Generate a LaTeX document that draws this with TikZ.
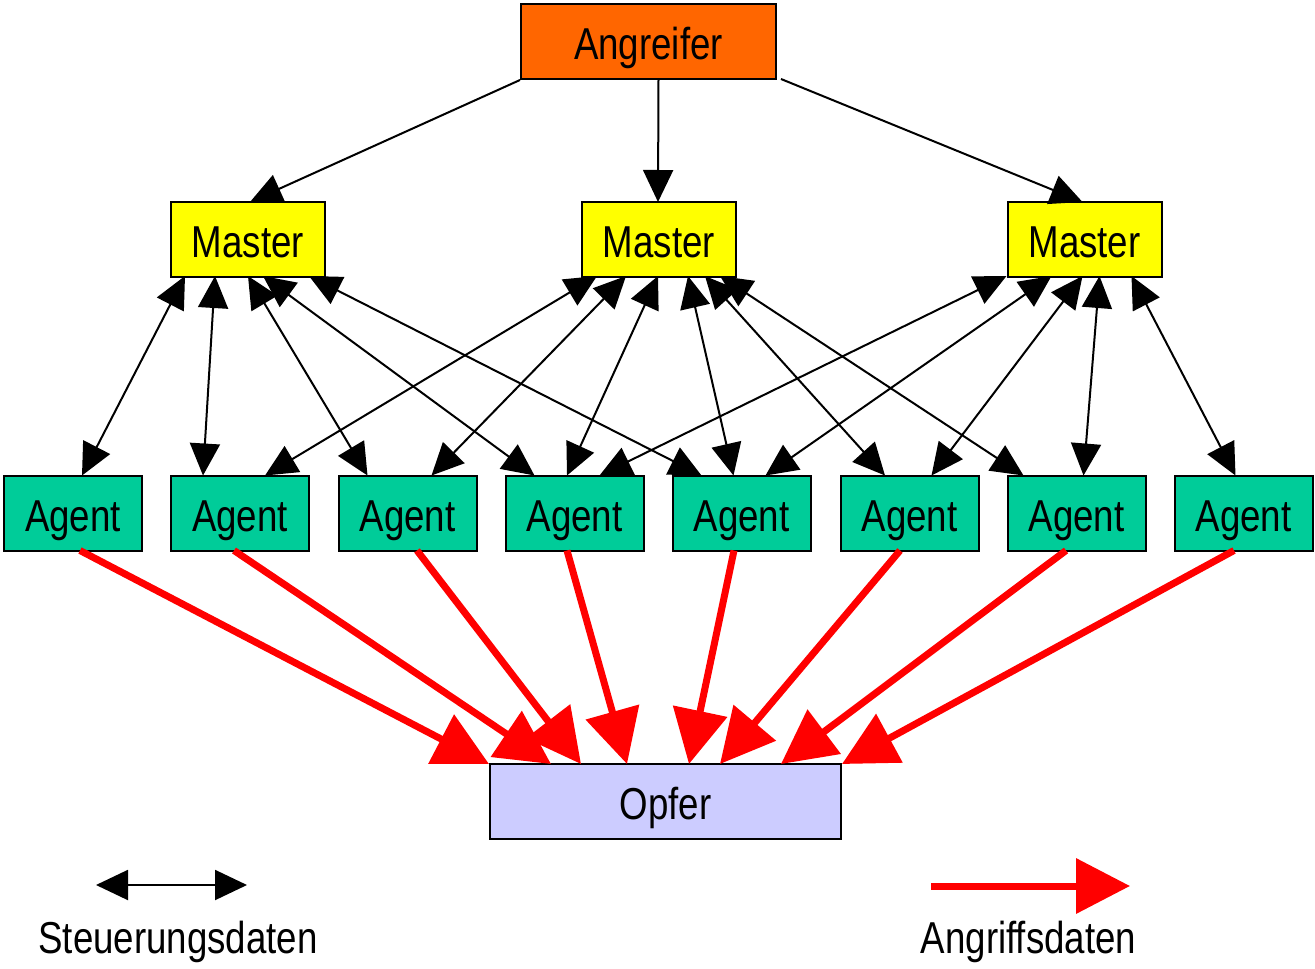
\documentclass[tikz,border=0pt]{standalone}
\usepackage{fontspec}
\setmainfont{Liberation Sans}[FakeStretch=0.82]
\usetikzlibrary{arrows.meta}
\definecolor{angcol}{HTML}{FF6600}
\definecolor{mastcol}{HTML}{FFFF00}
\definecolor{agcol}{HTML}{00CC99}
\definecolor{opcol}{HTML}{CCCCFF}
\begin{document}
\begin{tikzpicture}[x=1pt,y=-1pt,
  box/.style={draw=black,line width=2pt,inner sep=0pt,minimum height=75pt,
    text height=36pt,text depth=0pt,
    font=\fontsize{44.7}{50}\selectfont},
  ctrl/.style={line width=2pt,{Triangle[length=32pt,width=30pt]}-{Triangle[length=32pt,width=30pt]}},
  cmd/.style={line width=2pt,-{Triangle[length=32pt,width=30pt]}},
  atk/.style={line width=7pt,red,-{Triangle[length=54pt,width=54pt]}},
  lbl/.style={anchor=base,inner sep=0pt,font=\fontsize{44.7}{50}\selectfont}]
\useasboundingbox (0,0) rectangle (1315,969);
% nodes
\node[box,fill=angcol,minimum width=255pt] (ang) at (648.5,41.5) {Angreifer};
\node[box,fill=mastcol,minimum width=154pt] (m1) at (248,239.5) {Master};
\node[box,fill=mastcol,minimum width=154pt] (m2) at (659,239.5) {Master};
\node[box,fill=mastcol,minimum width=154pt] (m3) at (1084.5,239.5) {Master};
\foreach \i/\x in {1/73,2/240,3/407.5,4/574.5,5/741.5,6/909.5,7/1076.5,8/1243.5}
  \node[box,fill=agcol,minimum width=138pt] (a\i) at (\x,513) {Agent};
\node[box,fill=opcol,minimum width=351pt] (op) at (665.5,801.5) {Opfer};
% attacker -> masters
\draw[cmd] (ang.south west) -- ([xshift=2pt,yshift=-1pt]m1.north);
\draw[cmd] ([xshift=10pt,yshift=1pt]ang.south) -- ([xshift=-1pt,yshift=-1pt]m2.north);
\draw[cmd] ([xshift=4pt,yshift=1pt]ang.south east) -- ([xshift=-2pt,yshift=-1pt]m3.north);
% master <-> agent
\draw[ctrl] ([xshift=-63pt,yshift=2pt]m1.south) -- ([xshift=9pt,yshift=-1pt]a1.north);
\draw[ctrl] ([xshift=-33pt,yshift=2pt]m1.south) -- ([xshift=-37pt,yshift=-1pt]a2.north);
\draw[ctrl] ([xshift=0pt,yshift=2pt]m1.south) -- ([xshift=-40pt,yshift=-1pt]a3.north);
\draw[ctrl] ([xshift=15pt,yshift=2pt]m1.south) -- ([xshift=-40pt,yshift=-1pt]a4.north);
\draw[ctrl] ([xshift=61pt,yshift=2pt]m1.south) -- ([xshift=-40pt,yshift=-1pt]a5.north);
\draw[ctrl] ([xshift=-62pt,yshift=2pt]m2.south) -- ([xshift=25pt,yshift=-1pt]a2.north);
\draw[ctrl] ([xshift=-33pt,yshift=2pt]m2.south) -- ([xshift=24pt,yshift=-1pt]a3.north);
\draw[ctrl] ([xshift=-1pt,yshift=2pt]m2.south) -- ([xshift=-7.5pt,yshift=-1pt]a4.north);
\draw[ctrl] ([xshift=29pt,yshift=2pt]m2.south) -- ([xshift=-8pt,yshift=-1pt]a5.north);
\draw[ctrl] ([xshift=46pt,yshift=2pt]m2.south) -- ([xshift=-24.5pt,yshift=-1pt]a6.north);
\draw[ctrl] ([xshift=61pt,yshift=2pt]m2.south) -- ([xshift=-53pt,yshift=-1pt]a7.north);
\draw[ctrl] ([xshift=-78pt,yshift=2pt]m3.south) -- ([xshift=25pt,yshift=-1pt]a4.north);
\draw[ctrl] ([xshift=-33pt,yshift=2pt]m3.south) -- ([xshift=24pt,yshift=-1pt]a5.north);
\draw[ctrl] ([xshift=-2pt,yshift=2pt]m3.south) -- ([xshift=22pt,yshift=-1pt]a6.north);
\draw[ctrl] ([xshift=15pt,yshift=2pt]m3.south) -- ([xshift=7pt,yshift=-1pt]a7.north);
\draw[ctrl] ([xshift=47pt,yshift=2pt]m3.south) -- ([xshift=-8pt,yshift=-1pt]a8.north);
% agents -> victim
\draw[atk] ([xshift=7pt,yshift=1pt]a1.south) -- ([xshift=-176.5pt,yshift=-1pt]op.north);
\draw[atk] ([xshift=-6pt,yshift=1pt]a2.south) -- ([xshift=-114.5pt,yshift=-1pt]op.north);
\draw[atk] ([xshift=9.5pt,yshift=1pt]a3.south) -- ([xshift=-84.5pt,yshift=-1pt]op.north);
\draw[atk] ([xshift=-7.5pt,yshift=1pt]a4.south) -- ([xshift=-38.5pt,yshift=-1pt]op.north);
\draw[atk] ([xshift=-7.5pt,yshift=1pt]a5.south) -- ([xshift=23.5pt,yshift=-1pt]op.north);
\draw[atk] ([xshift=-9.5pt,yshift=1pt]a6.south) -- ([xshift=54.5pt,yshift=-1pt]op.north);
\draw[atk] ([xshift=-10.5pt,yshift=1pt]a7.south) -- ([xshift=115.5pt,yshift=-1pt]op.north);
\draw[atk] ([xshift=-9.5pt,yshift=1pt]a8.south) -- ([xshift=176.5pt,yshift=-1pt]op.north);
% legend
\coordinate (l1a) at (96,885);
\coordinate (l1b) at (247,885);
\draw[ctrl] (l1a) -- (l1b);
\node[lbl] (l1t) at (178,953) {Steuerungsdaten};
\coordinate (l2a) at (931,886);
\coordinate (l2b) at (1130,886);
\draw[atk] (l2a) -- (l2b);
\node[lbl] (l2t) at (1028.5,953) {Angriffsdaten};
\end{tikzpicture}
\end{document}
